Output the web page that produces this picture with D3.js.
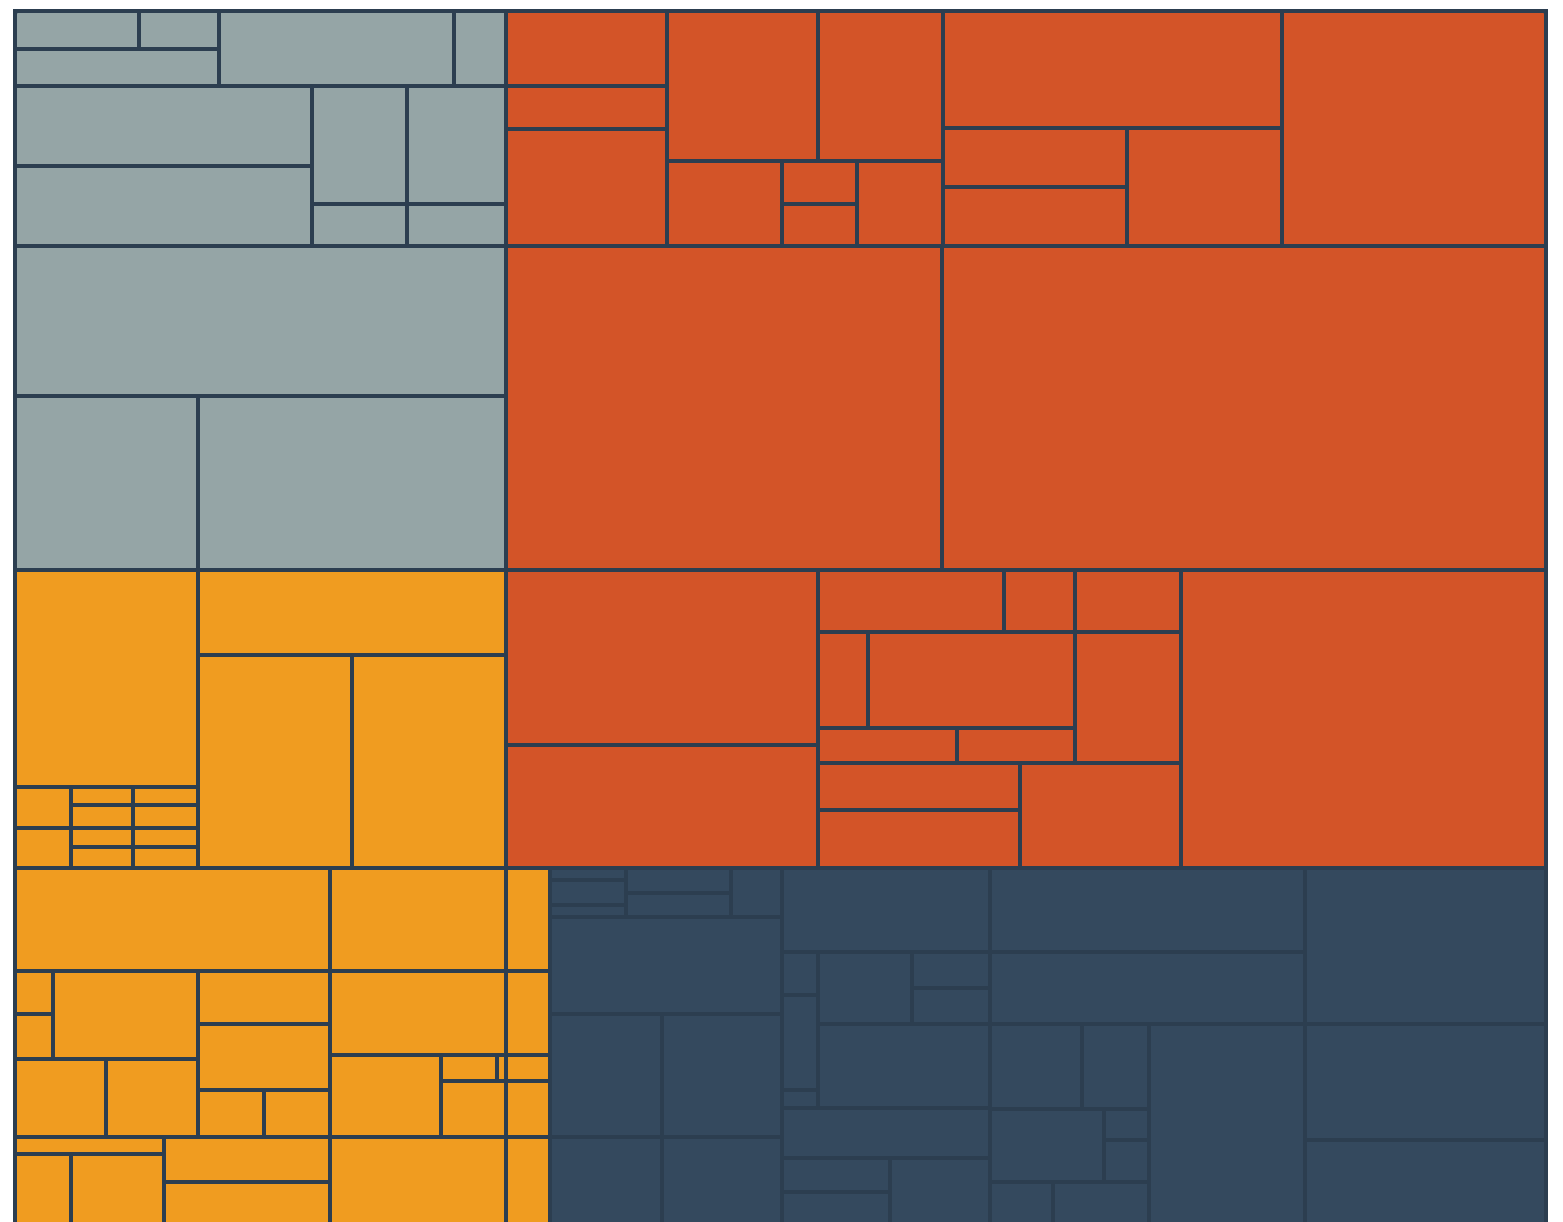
<!DOCTYPE html>
<html>
<head>
<meta charset="utf-8">
<script src="https://cdn.jsdelivr.net/npm/d3@7"></script>
<style>
  html, body { margin: 0; padding: 0; background: #ffffff; overflow: hidden; }
  svg { display: block; }
</style>
</head>
<body>
<svg id="chart" width="1563" height="1222"></svg>
<script>
// ---- DATA (leaf values; first entry of each group = split direction) ----
const categories = ["gray", "orange", "yellow", "dark"];
const categoryColors = ["#95a5a6", "#d35428", "#f09c20", "#34495e"];

const grayValues = ["v",
  ["h", ["v", ["h", 4712, 3040], 7548], 17625, 3900],
  ["h", ["v", 23760, 23760], ["v", 11210, 3990], ["v", 11682, 4158]],
  73650,
  ["h", 31842, 53592]
];

const yellowTopValues = ["h",
  ["v", 39711,
    ["h", ["v", 2296, 2240],
      ["v", ["h", 1116, 1170], ["h", 1426, 1495], ["h", 1178, 1235], ["h", 1302, 1365]]]],
  ["v", 26180, ["h", 32802, 32802]]
];

const orangeValues = ["v",
  ["h",
    ["v", 12075, 6923, 18837],
    ["v", ["h", 22650, 18750], ["h", 9775, ["v", 3225, 3150], 7310]],
    ["v", 39663, ["h", ["v", 10856, 10856], 18290]],
    62040],
  ["h", 141264, 195696],
  ["h",
    ["v", 54600, 38376],
    ["v",
      ["h",
        ["v", ["h", 11532, 4402], ["h", 4800, 19872], ["h", 4865, 4130]],
        ["v", 6572, 13886]],
      ["h", ["v", 9494, 11716], 16905]],
    108770]
];

const yellowBottomValues = ["h",
  ["v",
    ["h", 32445, 18128],
    ["h",
      ["v", ["h", ["v", 1634, 1710], 12760], ["h", 7098, 7176]],
      ["v", 6996, 8712, ["h", 3102, 3102]],
      ["v", 14784, ["h", 9102, ["v", ["h", 1456, 234], 3640]]]],
    ["h",
      ["v", 2533, ["h", 5096, 8463]],
      ["v", 7470, 10458],
      19008]],
  ["v", 4532, 3696, 1144, 2464, 4752]
];

const darkValues = ["h",
  ["v",
    ["h", ["v", 912, 1900, 912], ["v", 2625, 2520], 2499],
    22504,
    ["h", 13776, 14760],
    ["h", 12096, 12960]],
  ["v",
    17472,
    ["h", ["v", 1548, 3420, 648], ["v", ["h", 6768, ["v", 2808, 2808]], 14448]],
    10400,
    ["h", ["v", 3672, 5724], 8700]],
  ["v",
    26460,
    22680,
    ["h",
      ["v", ["h", 7820, 5695], ["h", 8322, ["v", 1395, 1890]], ["h", 3969, 6048]],
      34476]],
  ["v", 37596, 27956, 25305]
];

// ---- BUILD HIERARCHY ----
function build(arr, cat) {
  if (typeof arr === "number") return { value: arr, cat };
  return { dir: arr[0], cat, children: arr.slice(1).map(a => build(a, cat)) };
}
const rootData = {
  dir: "v",
  children: [
    { dir: "h", children: [
      { dir: "v", children: [build(grayValues, "gray"), build(yellowTopValues, "yellow")] },
      build(orangeValues, "orange")
    ]},
    { dir: "h", children: [build(yellowBottomValues, "yellow"), build(darkValues, "dark")] }
  ]
};

const margin = { left: 15, top: 11 };
const W = 1531, H = 1234;

const root = d3.hierarchy(rootData).sum(d => d.value || 0);

d3.treemap()
  .size([W, H])
  .tile((node, x0, y0, x1, y1) =>
    (node.data.dir === "h" ? d3.treemapDice : d3.treemapSlice)(node, x0, y0, x1, y1))
  (root);

const color = d3.scaleOrdinal().domain(categories).range(categoryColors);

const svg = d3.select("#chart");
const g = svg.append("g").attr("transform", `translate(${margin.left},${margin.top})`);

g.selectAll("rect.cell")
  .data(root.leaves())
  .join("rect")
  .attr("class", "cell")
  .attr("x", d => d.x0)
  .attr("y", d => d.y0)
  .attr("width", d => d.x1 - d.x0)
  .attr("height", d => d.y1 - d.y0)
  .attr("fill", d => color(d.data.cat))
  .attr("stroke", "#2c3e50")
  .attr("stroke-width", 4);

g.append("rect")
  .attr("x", 0).attr("y", 0)
  .attr("width", W).attr("height", H)
  .attr("rx", 3)
  .attr("fill", "none")
  .attr("stroke", "#2c3e50")
  .attr("stroke-width", 4);
</script>
</body>
</html>
